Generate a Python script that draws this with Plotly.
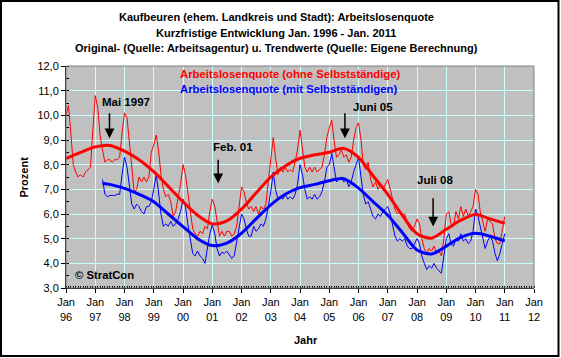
import pandas as pd
import plotly.graph_objects as go

# ---------------- data ----------------
# monthly values, Jan 1996 .. Jan 2011 (ohne Selbststaendige)
red_raw = [
    10.0, 10.4, 9.3, 8.0, 7.7, 7.5, 7.6, 7.5, 7.7, 7.8, 7.9, 9.4,   # 1996
    10.8, 10.3, 9.2, 8.6, 8.1, 8.2, 8.2, 8.1, 8.2, 8.2, 8.3, 9.3,   # 1997
    10.1, 9.9, 8.9, 7.8, 6.9, 7.0, 7.5, 7.3, 7.5, 7.3, 7.5, 8.5,    # 1998
    8.8, 9.2, 8.6, 7.6, 7.0, 6.7, 6.8, 6.5, 5.9, 6.1, 6.6, 7.2,     # 1999
    8.0, 7.6, 6.9, 6.0, 5.4, 5.2, 5.1, 5.3, 5.2, 5.5, 5.4, 6.1,     # 2000
    6.6, 6.3, 5.7, 5.1, 5.3, 5.1, 5.3, 5.3, 5.1, 5.2, 5.5, 6.3,     # 2001
    7.1, 6.9, 6.5, 6.2, 6.3, 6.1, 6.3, 6.0, 6.3, 6.2, 6.4, 7.3,     # 2002
    8.2, 9.1, 8.3, 7.6, 7.9, 7.7, 7.9, 7.7, 7.8, 7.7, 8.1, 8.6,     # 2003
    9.4, 8.7, 7.9, 7.7, 7.9, 7.7, 7.9, 7.7, 7.8, 7.9, 8.4, 9.1,     # 2004
    9.5, 9.8, 9.0, 8.3, 8.4, 8.6, 8.3, 8.4, 8.1, 8.3, 9.0, 9.5,     # 2005
    9.7, 9.0, 8.0, 7.8, 8.1, 7.4, 7.1, 7.3, 7.0, 7.2, 7.0, 7.2,     # 2006
    7.4, 7.0, 6.6, 6.2, 6.0, 6.1, 5.9, 6.0, 5.6, 5.4, 5.3, 5.5,     # 2007
    5.8, 5.6, 5.0, 4.6, 4.4, 4.6, 4.5, 4.7, 4.4, 4.5, 4.3, 5.0,     # 2008
    6.0, 6.1, 5.6, 5.5, 6.1, 5.8, 6.3, 5.9, 6.2, 5.9, 6.1, 6.3,     # 2009
    7.0, 6.8, 6.1, 5.7, 5.3, 5.8, 5.7, 5.6, 5.0, 4.8, 4.8, 5.3,     # 2010
    5.9,                                                            # 2011
]
red_start = "1996-01-01"

# monthly values, Apr 1997 .. Jan 2011 (mit Selbststaendigen)
blue_raw = [
    7.4, 6.8, 6.7, 6.75, 6.75, 6.75, 6.8, 6.8, 7.6,                 # 1997 (Apr-Dec)
    8.3, 7.9, 7.1, 6.4, 6.2, 6.4, 6.3, 6.1, 6.0, 6.3, 6.3, 6.5,     # 1998
    7.0, 7.6, 6.9, 6.0, 5.5, 5.6, 5.5, 5.7, 5.5, 5.6, 5.8, 6.1,     # 1999
    6.6, 6.3, 5.6, 4.9, 4.4, 4.3, 4.5, 4.3, 4.2, 4.0, 4.6, 5.2,     # 2000
    5.55, 5.2, 4.6, 4.3, 4.45, 4.4, 4.5, 4.35, 4.2, 4.3, 4.9, 5.5,  # 2001
    6.0, 5.8, 5.4, 5.1, 5.1, 5.5, 5.3, 5.4, 5.6, 5.5, 5.8, 6.3,     # 2002
    6.9, 7.7, 7.0, 6.6, 6.7, 6.6, 6.8, 6.6, 6.7, 6.6, 6.8, 7.2,     # 2003
    8.0, 7.6, 7.0, 6.6, 6.7, 6.6, 6.8, 6.6, 6.7, 6.9, 7.3, 7.9,     # 2004
    8.0, 8.45, 7.9, 7.3, 7.4, 7.5, 7.3, 7.4, 7.1, 7.3, 7.7, 8.0,    # 2005
    8.3, 7.5, 6.8, 6.4, 6.5, 6.2, 5.9, 5.8, 6.0, 5.9, 6.1, 6.2,     # 2006
    6.3, 6.0, 5.5, 5.1, 4.9, 5.0, 4.9, 5.0, 4.7, 4.6, 4.6, 4.8,     # 2007
    5.0, 4.8, 4.3, 4.0, 3.75, 3.9, 3.8, 4.0, 3.8, 3.7, 3.6, 4.3,    # 2008
    5.0, 5.2, 4.8, 4.7, 5.0, 4.9, 5.2, 4.9, 5.0, 4.8, 4.9, 5.3,     # 2009
    6.2, 5.9, 5.5, 5.0, 4.6, 4.9, 5.1, 4.9, 4.4, 4.1, 4.4, 4.8,     # 2010
    5.2,                                                            # 2011
]
blue_start = "1997-04-01"

# trend values (half-yearly readings)
red_trend_dates = ["1996-01-01", "1996-07-01", "1997-01-01", "1997-07-01", "1998-01-01",
                   "1998-07-01", "1999-01-01", "1999-07-01", "2000-01-01", "2000-07-01",
                   "2001-01-01", "2001-07-01", "2002-01-01", "2002-07-01", "2003-01-01",
                   "2003-07-01", "2004-01-01", "2004-07-01", "2005-01-01", "2005-07-01",
                   "2006-01-01", "2006-07-01", "2007-01-01", "2007-07-01", "2008-01-01",
                   "2008-07-01", "2009-01-01", "2009-07-01", "2010-01-01", "2010-07-01",
                   "2011-01-01"]
red_trend = [8.25, 8.5, 8.72, 8.78, 8.55, 8.2, 7.72, 7.12, 6.5, 5.95,
             5.6, 5.72, 6.2, 6.85, 7.5, 7.95, 8.26, 8.4, 8.5, 8.66,
             8.3, 7.55, 6.8, 5.95, 5.2, 5.02, 5.38, 5.75, 5.98, 5.8,
             5.62]

blue_trend_dates = ["1997-04-01", "1997-07-01", "1998-01-01",
                    "1998-07-01", "1999-01-01", "1999-07-01", "2000-01-01", "2000-07-01",
                    "2001-01-01", "2001-07-01", "2002-01-01", "2002-07-01", "2003-01-01",
                    "2003-07-01", "2004-01-01", "2004-07-01", "2005-01-01", "2005-07-01",
                    "2006-01-01", "2006-07-01", "2007-01-01", "2007-07-01", "2008-01-01",
                    "2008-07-01", "2009-01-01", "2009-07-01", "2010-01-01", "2010-07-01",
                    "2011-01-01"]
blue_trend = [7.25, 7.2, 7.04, 6.8, 6.5, 6.0, 5.49, 5.0,
              4.72, 4.82, 5.22, 5.8, 6.37, 6.8, 7.07, 7.2, 7.35, 7.43,
              7.05, 6.5, 5.95, 5.25, 4.54, 4.38, 4.7, 5.05, 5.22, 5.1,
              4.91]

# annotations: (label, arrow tip date, tip value, tail value)
events = [
    ("Mai 1997", "1997-06-27", 9.07, 10.15),
    ("Feb. 01", "2001-03-15", 7.25, 8.26),
    ("Juni 05", "2005-07-15", 9.07, 10.15),
    ("Juli 08", "2008-07-20", 5.49, 6.70),
]

tick_years = list(range(1996, 2013))
tick_labels = ["Jan<br>%02d" % (y % 100) for y in tick_years]
y_ticks = [3, 4, 5, 6, 7, 8, 9, 10, 11, 12]

title_lines = [
    "Kaufbeuren (ehem. Landkreis und Stadt): Arbeitslosenquote",
    "Kurzfristige Entwicklung Jan. 1996 - Jan. 2011",
    "Original- (Quelle: Arbeitsagentur) u. Trendwerte (Quelle: Eigene Berechnung)",
]
legend_red = "Arbeitslosenquote (ohne Selbstständige)"
legend_blue = "Arbeitslosenquote (mit Selbstständigen)"

# ---------------- figure ----------------
FONT = "Liberation Sans, Arial, sans-serif"
W, H = 561, 358
L, R, T, B = 66, 27, 66, 70
PW, PH = W - L - R, H - T - B


def px(xp):
    return (xp - L) / PW


def py(yp):
    return (H - B - yp) / PH


red_dates = pd.date_range(red_start, periods=len(red_raw), freq="MS")
blue_dates = pd.date_range(blue_start, periods=len(blue_raw), freq="MS")

fig = go.Figure()
fig.add_trace(go.Scatter(x=red_dates, y=red_raw, mode="lines",
                         line=dict(color="#FF0000", width=1), hoverinfo="skip"))
fig.add_trace(go.Scatter(x=blue_dates, y=blue_raw, mode="lines",
                         line=dict(color="#0000FF", width=1), hoverinfo="skip"))
fig.add_trace(go.Scatter(x=pd.to_datetime(red_trend_dates), y=red_trend, mode="lines",
                         line=dict(color="#FF0000", width=3, shape="spline", smoothing=0.8),
                         hoverinfo="skip"))
fig.add_trace(go.Scatter(x=pd.to_datetime(blue_trend_dates), y=blue_trend, mode="lines",
                         line=dict(color="#0000FF", width=3, shape="spline", smoothing=0.8),
                         hoverinfo="skip"))

annotations = []
for i, line in enumerate(title_lines):
    annotations.append(dict(text="<b>%s</b>" % line, xref="paper", yref="paper",
                            x=px(276), y=py([16.7, 32.7, 47.7][i]), showarrow=False,
                            xanchor="center", yanchor="middle",
                            font=dict(family=FONT, size=11, color="#000000")))

annotations.append(dict(text="<b>%s</b>" % legend_red, xref="paper", yref="paper",
                        x=px(178), y=py(74), xanchor="left", yanchor="middle", showarrow=False,
                        font=dict(family=FONT, size=11.3, color="#FF0000")))
annotations.append(dict(text="<b>%s</b>" % legend_blue, xref="paper", yref="paper",
                        x=px(178), y=py(89.3), xanchor="left", yanchor="middle", showarrow=False,
                        font=dict(family=FONT, size=11.3, color="#0000FF")))

label_pos = [(126, 102), (232.5, 146.7), (373, 107.3), (435, 180)]
for (label, d, tip, tail), (lx, ly) in zip(events, label_pos):
    annotations.append(dict(x=d, y=tip, ax=d, ay=tail, xref="x", yref="y",
                            axref="x", ayref="y", text="", showarrow=True,
                            arrowhead=2, arrowsize=1.3, arrowwidth=1.5,
                            arrowcolor="#000000"))
    annotations.append(dict(text="<b>%s</b>" % label, xref="paper", yref="paper",
                            x=px(lx), y=py(ly), xanchor="center", yanchor="middle",
                            showarrow=False,
                            font=dict(family=FONT, size=11.5, color="#000000")))

annotations.append(dict(text="<b>© StratCon</b>", xref="paper", yref="paper",
                        x=px(73), y=py(275), xanchor="left", yanchor="middle",
                        showarrow=False, font=dict(family=FONT, size=11.3, color="#000000")))
annotations.append(dict(text="<b>Prozent</b>", xref="paper", yref="paper",
                        x=px(23.5), y=py(177), xanchor="center", yanchor="middle",
                        textangle=-90, showarrow=False,
                        font=dict(family=FONT, size=11, color="#000000")))
annotations.append(dict(text="<b>Jahr</b>", xref="paper", yref="paper",
                        x=px(305.5), y=py(339.5), xanchor="center", yanchor="middle",
                        showarrow=False, font=dict(family=FONT, size=11, color="#000000")))

shapes = [
    # plot area frame (grey)
    dict(type="rect", xref="paper", yref="paper", x0=0, x1=1, y0=0, y1=1,
         line=dict(color="#808080", width=1), layer="above"),
    # outer chart border (black)
    dict(type="rect", xref="paper", yref="paper",
         x0=px(1), x1=px(558.5), y0=py(356), y1=py(1),
         line=dict(color="#000000", width=2), layer="above"),
]

fig.update_layout(
    width=W, height=H,
    margin=dict(l=L, r=R, t=T, b=B, pad=0),
    paper_bgcolor="#FFFFFF",
    plot_bgcolor="#C0C0C0",
    showlegend=False,
    separators=",.",
    annotations=annotations,
    shapes=shapes,
    font=dict(family=FONT, size=11, color="#000000"),
)
fig.update_xaxes(
    type="date",
    range=["1996-01-01", "2012-01-01"],
    tickvals=["%d-01-01" % y for y in tick_years],
    ticktext=tick_labels,
    tickfont=dict(family=FONT, size=11, color="#000000"),
    showgrid=True, gridcolor="#C8FFFF", gridwidth=1,
    showline=True, linecolor="#000000", linewidth=1,
    ticks="outside", ticklen=4, tickcolor="#000000",
    minor=dict(dtick="M1", ticks="inside", ticklen=2, tickcolor="#000000", showgrid=False),
    zeroline=False, fixedrange=True,
)
fig.update_yaxes(
    range=[3, 12],
    tickvals=y_ticks,
    tickformat=".1f",
    tickfont=dict(family=FONT, size=11, color="#000000"),
    showgrid=True, gridcolor="#C8FFFF", gridwidth=1,
    showline=True, linecolor="#000000", linewidth=1,
    ticks="outside", ticklen=4, tickcolor="#000000",
    minor=dict(dtick=0.5, ticks="inside", ticklen=3, tickcolor="#000000", showgrid=False),
    zeroline=False, fixedrange=True,
)

fig.write_html("out.html", config={"displayModeBar": False},
               post_script="document.body.style.margin='0px';document.body.style.padding='0px';")
